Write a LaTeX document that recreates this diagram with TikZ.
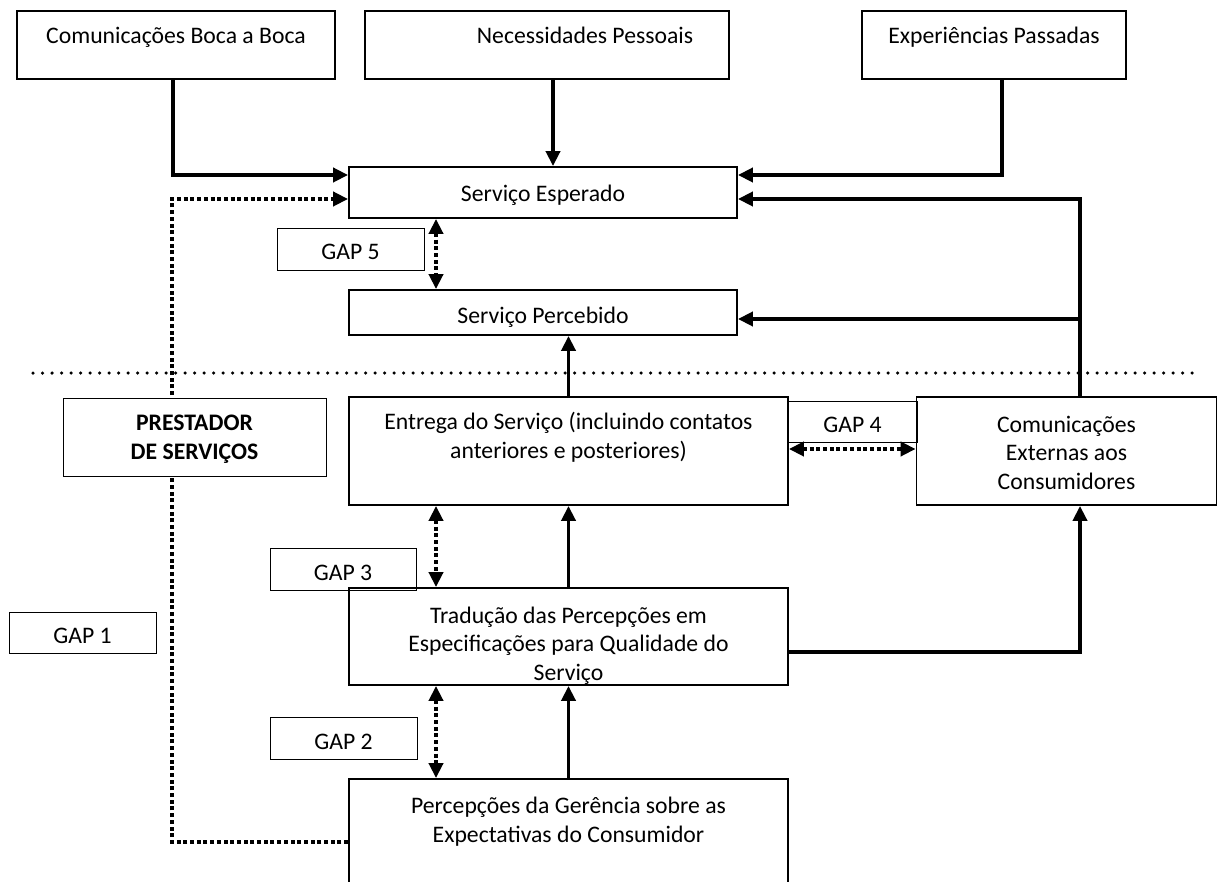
\documentclass[tikz,border=0pt]{standalone}
\usepackage{fontspec}
\setmainfont{Carlito}
\usetikzlibrary{arrows.meta,positioning,calc}

\begin{document}
\begin{tikzpicture}[x=1pt,y=-1pt,>={Triangle[length=15pt,width=14pt]},
  caixa/.style={draw, line width=1.8pt, inner sep=0pt, fill=white, font=\fontsize{23.7}{28.5}\selectfont},
  gapbox/.style={draw, line width=0.8pt, inner sep=0pt, text height=22pt, text depth=0pt, font=\fontsize{23.7}{28.5}\selectfont},
  seta/.style={->, line width=3.8pt},
  pont/.style={line width=3.8pt, dash pattern=on 4pt off 2.7pt}]
\clip (0,0) rectangle (1217,882);
\fill[white] (0,0) rectangle (1217,882);

% clientes
\node[caixa, minimum width=318pt, minimum height=68pt, text height=16pt, text depth=18pt] (boca) at (176,45) {Comunicações Boca a Boca};
\node[caixa, minimum width=364pt, minimum height=68pt, text height=16pt, text depth=18pt] (necess) at (547,45) {\hspace*{76pt}Necessidades Pessoais};
\node[caixa, minimum width=264pt, minimum height=68pt, text height=16pt, text depth=18pt] (exper) at (994,45) {Experiências Passadas};
\node[caixa, minimum width=388pt, minimum height=51pt, text height=24pt, text depth=5pt] (esperado) at (543,192.5) {Serviço Esperado};
\node[caixa, minimum width=388pt, minimum height=45pt, text height=27pt, text depth=5pt] (percebido) at (543,312.5) {Serviço Percebido};

% prestador
\node[caixa, align=center, minimum width=439pt, minimum height=108pt, text height=50pt, text depth=36pt] (entrega) at (568.5,451) {Entrega do Serviço (incluindo contatos\\anteriores e posteriores)};
\node[caixa, align=center, minimum width=300pt, minimum height=108pt, text height=80pt, text depth=4pt] (externas) at (1066.5,451) {Comunicações\\Externas aos\\Consumidores};
\node[caixa, align=center, minimum width=439pt, minimum height=97pt, text height=92pt, text depth=5pt] (traducao) at (568.5,636.5) {Tradução das Percepções em\\Especificações para Qualidade do\\Serviço};
\node[caixa, align=center, minimum width=439pt, minimum height=120pt, text height=50pt, text depth=44pt] (percepcoes) at (568.5,839) {Percepções da Gerência sobre as\\Expectativas do Consumidor};

% linha divisoria
\draw[line width=3.5pt, line cap=round, dash pattern=on 0pt off 9.5pt] (33,373) -- (1200,373);

% setas
\coordinate (extop) at ([xshift=13.5pt]externas.north);
\coordinate (pe) at ([yshift=-6.5pt]percebido.east);
\coordinate (canto) at (172,199);
\draw[seta] ([xshift=-3pt]boca.south) |- ([yshift=17.5pt]esperado.west);
\draw[seta] ([xshift=6pt]necess.south) -- ([xshift=6pt]necess.south |- esperado.north);
\draw[seta] ([xshift=8pt]exper.south) |- ([yshift=17.5pt]esperado.east);
\draw[seta] (extop) |- ([yshift=-6.5pt]esperado.east);
\draw[seta] (extop |- pe) -- (pe);
\draw[seta] (entrega.north) -- (entrega.north |- percebido.south);
\draw[seta] (traducao.north) -- (entrega.south);
\draw[seta] (percepcoes.north) -- (traducao.south);
\draw[seta] ([yshift=-15.5pt]traducao.east) -| ([xshift=13.5pt]externas.south);

% gaps
\draw[pont, ->] ([yshift=-3pt]percepcoes.west) -| (canto) -- ([yshift=-6.5pt]esperado.west);
\draw[pont, <->] ([xshift=-107pt]esperado.south) -- ([xshift=-107pt]percebido.north);
\draw[pont, <->] ([xshift=-132.5pt]entrega.south) -- ([xshift=-132.5pt]traducao.north);
\draw[pont, <->] ([xshift=-132.5pt]traducao.south) -- ([xshift=-132.5pt]percepcoes.north);
\draw[pont, <->] ([yshift=2pt]entrega.east) -- ([yshift=2pt]externas.west);

\node[caixa, line width=0.8pt, align=center, minimum width=263pt, minimum height=78pt, text height=49pt, text depth=5pt, font=\fontsize{23.7}{28.5}\selectfont\bfseries] (prestador) at (194.5,437) {PRESTADOR\\DE SERVIÇOS};
\node[gapbox, minimum width=147pt, minimum height=42pt] (gap5) at (350.5,249) {GAP 5};
\node[gapbox, minimum width=129pt, minimum height=41pt] (gap4) at (852.5,421.5) {GAP 4};
\node[gapbox, minimum width=146pt, minimum height=42pt] (gap3) at (343,569) {GAP 3};
\node[gapbox, minimum width=147pt, minimum height=42pt] (gap2) at (343.5,738) {GAP 2};
\node[gapbox, minimum width=147pt, minimum height=41pt] (gap1) at (82.5,632.5) {GAP 1};
\end{tikzpicture}
\end{document}
